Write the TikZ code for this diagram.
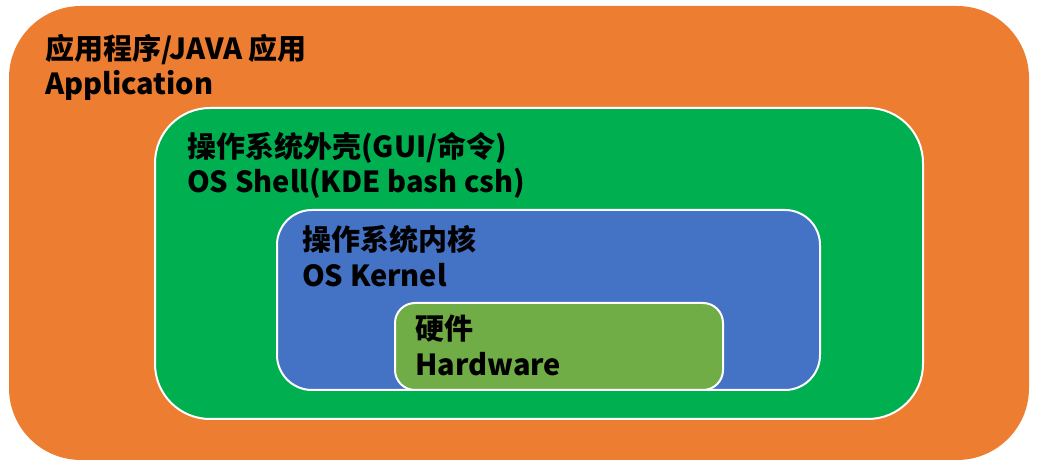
\documentclass[tikz,border=0pt]{standalone}
\usepackage{fontspec}
\setmainfont{Noto Sans CJK SC}
\definecolor{orangeC}{HTML}{ED7D31}
\definecolor{greenC}{HTML}{00B050}
\definecolor{blueC}{HTML}{4472C4}
\definecolor{hwC}{HTML}{70AD47}
\tikzset{
  box/.style={rectangle, inner sep=0pt, outer sep=0pt},
  wbox/.style={box, draw=white, line width=2pt},
  txt/.style={inner sep=0pt, anchor=base west, font=\fontsize{29}{34}\selectfont\bfseries, text=black}
}
\begin{document}
\begin{tikzpicture}[x=1pt,y=1pt]
\useasboundingbox[fill=white] (0,0) rectangle (1044,468);
% boxes
\node[box, fill=orangeC, rounded corners=72pt, minimum width=1020pt, minimum height=454pt] (app) at (519,235) {};
\node[wbox, fill=greenC, rounded corners=55pt, minimum width=768pt, minimum height=311pt] (shell) at (539,204.5) {};
\node[wbox, fill=blueC, rounded corners=35pt, minimum width=543pt, minimum height=180pt] (kernel) at (548.5,168) {};
\node[wbox, fill=hwC, rounded corners=20pt, minimum width=328pt, minimum height=87pt] (hw) at (559,121.5) {};
% texts
\node[txt] (appzh) at (45,408) {应用程序/JAVA 应用};
\node[txt] (appen) at (45,373) {Application};
\node[txt] (shellzh) at (187,310) {操作系统外壳(GUI/命令)};
\node[txt] (shellen) at (187,275) {OS Shell(KDE bash csh)};
\node[txt] (kernelzh) at (302,217) {操作系统内核};
\node[txt] (kernelen) at (302,181) {OS Kernel};
\node[txt] (hwzh) at (415,128) {硬件};
\node[txt] (hwen) at (415,92) {Hardware};
\end{tikzpicture}
\end{document}
